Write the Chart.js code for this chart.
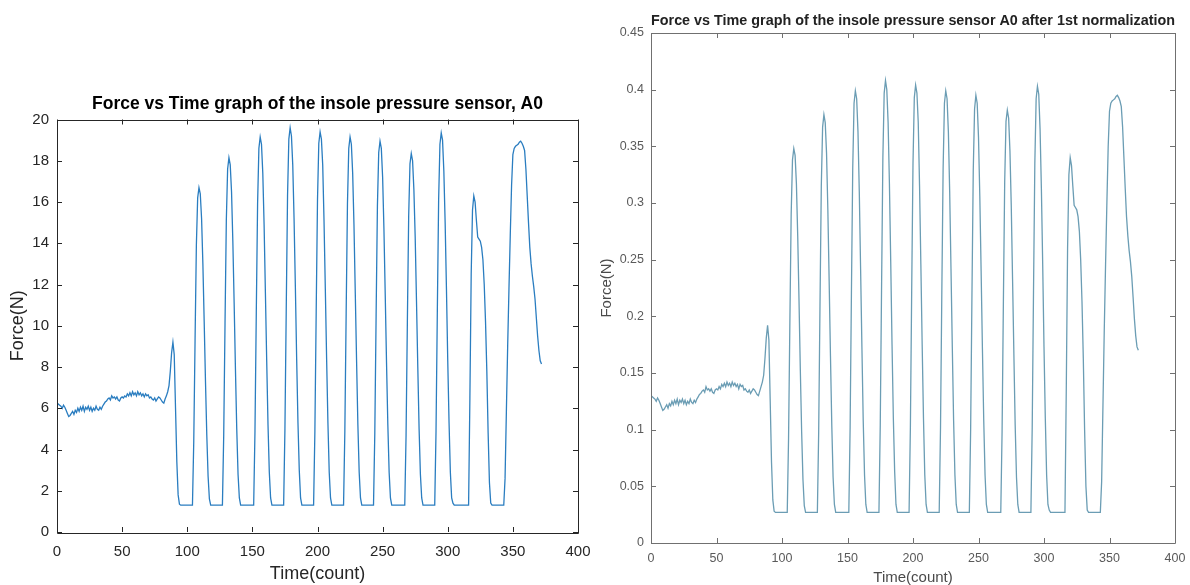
<!DOCTYPE html>
<html>
<head>
<meta charset="utf-8">
<title>Force vs Time - insole pressure sensor A0</title>
<script src="https://cdn.jsdelivr.net/npm/chart.js@4.4.1/dist/chart.umd.min.js"></script>
<style>
    html, body { margin: 0; padding: 0; background: #ffffff; overflow: hidden; }
    #wrap { position: relative; width: 1190px; height: 585px; overflow: hidden; }
    canvas { position: absolute; }
    #rawChart { left: 0; top: 80px; }
    #normChart { left: 595px; top: 0; }
</style>
</head>
<body>
<div id="wrap">
    <canvas id="rawChart" width="595" height="505"></canvas>
    <canvas id="normChart" width="595" height="600"></canvas>
</div>
<script>
// =================================================
// DATA (one sample per count)
// =================================================

const xTicks = [0, 50, 100, 150, 200, 250, 300, 350, 400];
const rawTicks = [0, 2, 4, 6, 8, 10, 12, 14, 16, 18, 20];
const normTicks = [0, 0.05, 0.1, 0.15, 0.2, 0.25, 0.3, 0.35, 0.4, 0.45];

// Force(N) before normalization, count 0..372
const forceRaw = [
    6.25, 6.2, 6.15, 6.1, 6.0, 6.15, 6.05, 5.9, 5.75, 5.6,          // 0-9
    5.65, 5.75, 5.85, 5.7, 5.9, 5.8, 6.0, 5.85, 6.05, 5.9,          // 10-19
    6.1, 5.85, 6.05, 5.95, 6.1, 5.9, 6.05, 5.85, 6.0, 5.9,          // 20-29
    6.1, 5.95, 5.9, 6.05, 5.95, 6.1, 6.2, 6.3, 6.35, 6.45,          // 30-39
    6.5, 6.4, 6.6, 6.5, 6.55, 6.45, 6.55, 6.4, 6.35, 6.5,           // 40-49
    6.55, 6.5, 6.6, 6.55, 6.7, 6.6, 6.75, 6.6, 6.8, 6.65,           // 50-59
    6.75, 6.6, 6.8, 6.65, 6.75, 6.6, 6.7, 6.55, 6.7, 6.6,           // 60-69
    6.65, 6.5, 6.55, 6.45, 6.4, 6.5, 6.35, 6.45, 6.55, 6.5,         // 70-79
    6.4, 6.3, 6.25, 6.45, 6.6, 6.8, 7.1, 7.8, 8.7, 9.2,             // 80-89
    8.6, 6.0, 3.4, 1.8, 1.35, 1.3, 1.3, 1.3, 1.3, 1.3,              // 90-99
    1.3, 1.3, 1.3, 1.3, 1.3, 4.4, 9.3, 13.9, 16.2, 16.7,            // 100-109
    16.4, 15.2, 13.0, 10.2, 7.3, 4.7, 2.7, 1.6, 1.3, 1.3,           // 110-119
    1.3, 1.3, 1.3, 1.3, 1.3, 1.3, 1.3, 1.3, 4.7, 10.1,              // 120-129
    15.1, 17.6, 18.15, 17.8, 16.5, 14.1, 11.1, 7.9, 5.0, 2.8,       // 130-139
    1.65, 1.3, 1.3, 1.3, 1.3, 1.3, 1.3, 1.3, 1.3, 1.3,              // 140-149
    1.3, 1.3, 4.9, 10.6, 15.9, 18.6, 19.15, 18.8, 17.4, 14.9,       // 150-159
    11.6, 8.3, 5.2, 2.9, 1.65, 1.3, 1.3, 1.3, 1.3, 1.3,             // 160-169
    1.3, 1.3, 1.3, 1.3, 1.3, 5.0, 10.8, 16.3, 19.05, 19.6,          // 170-179
    19.2, 17.8, 15.2, 11.9, 8.4, 5.3, 3.0, 1.65, 1.3, 1.3,          // 180-189
    1.3, 1.3, 1.3, 1.3, 1.3, 1.3, 1.3, 1.3, 4.9, 10.7,              // 190-199
    16.1, 18.85, 19.4, 19.05, 17.8, 15.1, 11.8, 8.4, 5.3, 2.9,      // 200-209
    1.65, 1.3, 1.3, 1.3, 1.3, 1.3, 1.3, 1.3, 1.3, 1.3,              // 210-219
    1.3, 4.9, 10.6, 15.9, 18.6, 19.15, 18.8, 17.4, 14.9, 11.6,      // 220-229
    8.3, 5.2, 2.9, 1.65, 1.3, 1.3, 1.3, 1.3, 1.3, 1.3,              // 230-239
    1.3, 1.3, 1.3, 1.3, 4.8, 10.5, 15.8, 18.4, 18.95, 18.6,         // 240-249
    17.2, 14.7, 11.5, 8.2, 5.2, 2.9, 1.65, 1.3, 1.3, 1.3,           // 250-259
    1.3, 1.3, 1.3, 1.3, 1.3, 1.3, 1.3, 1.3, 4.7, 10.2,              // 260-269
    15.3, 17.85, 18.35, 18.0, 16.6, 14.3, 11.2, 8.0, 5.0, 2.8,      // 270-279
    1.65, 1.3, 1.3, 1.3, 1.3, 1.3, 1.3, 1.3, 1.3, 1.3,              // 280-289
    1.3, 4.9, 10.7, 16.1, 18.8, 19.35, 19.0, 17.5, 15.0, 11.8,      // 290-299
    8.3, 5.3, 2.9, 1.65, 1.4, 1.3, 1.3, 1.3, 1.3, 1.3,              // 300-309
    1.3, 1.3, 1.3, 1.3, 1.3, 1.3, 1.3, 6.5, 12.5, 15.6,             // 310-319
    16.3, 16.0, 15.1, 14.3, 14.2, 14.1, 13.8, 13.2, 12.0, 10.2,     // 320-329
    7.8, 4.8, 2.4, 1.4, 1.3, 1.3, 1.3, 1.3, 1.3, 1.3,               // 330-339
    1.3, 1.3, 1.3, 1.3, 2.6, 5.8, 9.0, 11.8, 14.4, 16.8,            // 340-349
    18.3, 18.6, 18.7, 18.75, 18.8, 18.9, 18.95, 18.85, 18.7, 18.5,  // 350-359
    17.6, 16.3, 15.0, 13.8, 13.0, 12.4, 11.9, 11.3, 10.4, 9.5,      // 360-369
    8.8, 8.3, 8.15                                                  // 370-372
];

// Force(N) after 1st normalization, count 0..372
const forceNorm = [
    0.130, 0.129, 0.128, 0.127, 0.125, 0.128, 0.126, 0.123, 0.120, 0.117,   // 0-9
    0.118, 0.120, 0.122, 0.119, 0.123, 0.121, 0.125, 0.122, 0.126, 0.123,   // 10-19
    0.127, 0.122, 0.126, 0.124, 0.127, 0.123, 0.126, 0.122, 0.125, 0.123,   // 20-29
    0.127, 0.124, 0.123, 0.126, 0.124, 0.127, 0.129, 0.131, 0.132, 0.134,   // 30-39
    0.135, 0.133, 0.138, 0.135, 0.136, 0.134, 0.136, 0.133, 0.132, 0.135,   // 40-49
    0.136, 0.135, 0.138, 0.136, 0.140, 0.138, 0.141, 0.138, 0.142, 0.139,   // 50-59
    0.141, 0.138, 0.142, 0.139, 0.141, 0.138, 0.140, 0.136, 0.140, 0.138,   // 60-69
    0.139, 0.135, 0.136, 0.134, 0.133, 0.135, 0.132, 0.134, 0.136, 0.135,   // 70-79
    0.133, 0.131, 0.130, 0.134, 0.138, 0.142, 0.148, 0.163, 0.181, 0.192,   // 80-89
    0.179, 0.125, 0.071, 0.038, 0.028, 0.027, 0.027, 0.027, 0.027, 0.027,   // 90-99
    0.027, 0.027, 0.027, 0.027, 0.027, 0.092, 0.194, 0.290, 0.338, 0.348,   // 100-109
    0.342, 0.317, 0.271, 0.213, 0.152, 0.098, 0.056, 0.033, 0.027, 0.027,   // 110-119
    0.027, 0.027, 0.027, 0.027, 0.027, 0.027, 0.027, 0.027, 0.098, 0.210,   // 120-129
    0.315, 0.367, 0.378, 0.371, 0.344, 0.294, 0.231, 0.165, 0.104, 0.058,   // 130-139
    0.034, 0.027, 0.027, 0.027, 0.027, 0.027, 0.027, 0.027, 0.027, 0.027,   // 140-149
    0.027, 0.027, 0.102, 0.221, 0.331, 0.388, 0.399, 0.392, 0.363, 0.310,   // 150-159
    0.242, 0.173, 0.108, 0.060, 0.034, 0.027, 0.027, 0.027, 0.027, 0.027,   // 160-169
    0.027, 0.027, 0.027, 0.027, 0.027, 0.104, 0.225, 0.340, 0.397, 0.408,   // 170-179
    0.400, 0.371, 0.317, 0.248, 0.175, 0.110, 0.063, 0.034, 0.027, 0.027,   // 180-189
    0.027, 0.027, 0.027, 0.027, 0.027, 0.027, 0.027, 0.027, 0.102, 0.223,   // 190-199
    0.335, 0.393, 0.404, 0.397, 0.371, 0.315, 0.246, 0.175, 0.110, 0.060,   // 200-209
    0.034, 0.027, 0.027, 0.027, 0.027, 0.027, 0.027, 0.027, 0.027, 0.027,   // 210-219
    0.027, 0.102, 0.221, 0.331, 0.388, 0.399, 0.392, 0.363, 0.310, 0.242,   // 220-229
    0.173, 0.108, 0.060, 0.034, 0.027, 0.027, 0.027, 0.027, 0.027, 0.027,   // 230-239
    0.027, 0.027, 0.027, 0.027, 0.100, 0.219, 0.329, 0.383, 0.395, 0.388,   // 240-249
    0.358, 0.306, 0.240, 0.171, 0.108, 0.060, 0.034, 0.027, 0.027, 0.027,   // 250-259
    0.027, 0.027, 0.027, 0.027, 0.027, 0.027, 0.027, 0.027, 0.098, 0.213,   // 260-269
    0.319, 0.372, 0.382, 0.375, 0.346, 0.298, 0.233, 0.167, 0.104, 0.058,   // 270-279
    0.034, 0.027, 0.027, 0.027, 0.027, 0.027, 0.027, 0.027, 0.027, 0.027,   // 280-289
    0.027, 0.102, 0.223, 0.335, 0.392, 0.403, 0.396, 0.365, 0.313, 0.246,   // 290-299
    0.173, 0.110, 0.060, 0.034, 0.029, 0.027, 0.027, 0.027, 0.027, 0.027,   // 300-309
    0.027, 0.027, 0.027, 0.027, 0.027, 0.027, 0.027, 0.135, 0.260, 0.325,   // 310-319
    0.340, 0.333, 0.315, 0.298, 0.296, 0.294, 0.288, 0.275, 0.250, 0.213,   // 320-329
    0.163, 0.100, 0.050, 0.029, 0.027, 0.027, 0.027, 0.027, 0.027, 0.027,   // 330-339
    0.027, 0.027, 0.027, 0.027, 0.054, 0.121, 0.188, 0.246, 0.300, 0.350,   // 340-349
    0.381, 0.388, 0.390, 0.391, 0.392, 0.394, 0.395, 0.393, 0.390, 0.385,   // 350-359
    0.367, 0.340, 0.313, 0.288, 0.271, 0.258, 0.248, 0.235, 0.217, 0.198,   // 360-369
    0.183, 0.173, 0.170                                                     // 370-372
];

// time axis is just the sample counter
const timeCount = forceRaw.map((_, i) => i);

const FONT = "'Liberation Sans', Arial, Helvetica, sans-serif";

// =================================================
// MATLAB style box: frame round the plot area + inward ticks on all sides
// =================================================
const matlabBox = {
    id: 'matlabBox',
    afterDraw(chart, args, opts) {
        const { ctx, chartArea: a, scales: { x, y } } = chart;
        const len = opts.tickLen || 5;
        ctx.save();
        ctx.strokeStyle = opts.color || '#262626';
        ctx.lineWidth = 1;
        ctx.beginPath();
        ctx.rect(Math.round(a.left) + 0.5, Math.round(a.top) + 0.5,
                 Math.round(a.right - a.left), Math.round(a.bottom - a.top));
        x.ticks.forEach(t => {
            const px = Math.round(x.getPixelForValue(t.value)) + 0.5;
            ctx.moveTo(px, a.bottom); ctx.lineTo(px, a.bottom - len);
            ctx.moveTo(px, a.top); ctx.lineTo(px, a.top + len);
        });
        y.ticks.forEach(t => {
            const py = Math.round(y.getPixelForValue(t.value)) + 0.5;
            ctx.moveTo(a.left, py); ctx.lineTo(a.left + len, py);
            ctx.moveTo(a.right, py); ctx.lineTo(a.right - len, py);
        });
        ctx.stroke();
        ctx.restore();
    }
};

/**
 * Builds one MATLAB-looking line chart.
 */
function makeChart(canvasId, values, yTicks, s) {
    const points = values.map((v, i) => ({ x: timeCount[i], y: v }));
    return new Chart(document.getElementById(canvasId), {
        type: 'line',
        data: {
            datasets: [{
                data: points,
                borderColor: s.lineColor,
                borderWidth: s.lineWidth,
                pointRadius: 0,
                tension: 0,
                fill: false
            }]
        },
        options: {
            responsive: false,
            animation: false,
            devicePixelRatio: 1,
            layout: { padding: { left: 0, right: s.padRight, top: 0, bottom: 0 } },
            plugins: {
                legend: { display: false },
                tooltip: { enabled: false },
                title: {
                    display: true,
                    text: s.title,
                    fullSize: false,
                    color: s.titleColor,
                    font: { size: s.titleSize, weight: 'bold', family: FONT, lineHeight: 1.2 },
                    padding: s.titlePad
                },
                matlabBox: { color: s.axisColor, tickLen: 5 }
            },
            scales: {
                x: {
                    type: 'linear',
                    min: xTicks[0],
                    max: xTicks[xTicks.length - 1],
                    afterBuildTicks: (scale) => { scale.ticks = xTicks.map(v => ({ value: v })); },
                    grid: { display: false, drawTicks: false },
                    border: { display: false },
                    ticks: {
                        color: s.tickColor,
                        font: { size: s.tickSize, family: FONT },
                        padding: s.xTickPad,
                        maxRotation: 0,
                        autoSkip: false
                    },
                    title: {
                        display: true,
                        text: 'Time(count)',
                        color: s.labelColor,
                        font: { size: s.labelSize, family: FONT, lineHeight: 1.2 },
                        padding: { top: 0, bottom: s.xTitlePad }
                    },
                    afterFit: (scale) => {
                        scale.height = s.xHeight;
                        // keep the plot box where MATLAB put it, ignore label overhang
                        scale.paddingLeft = 0;
                        scale.paddingRight = 0;
                    }
                },
                y: {
                    type: 'linear',
                    min: yTicks[0],
                    max: yTicks[yTicks.length - 1],
                    afterBuildTicks: (scale) => { scale.ticks = yTicks.map(v => ({ value: v })); },
                    grid: { display: false, drawTicks: false },
                    border: { display: false },
                    ticks: {
                        color: s.tickColor,
                        font: { size: s.tickSize, family: FONT },
                        padding: s.yTickPad,
                        autoSkip: false,
                        callback: (v) => String(Number(v.toFixed(2)))
                    },
                    title: {
                        display: true,
                        text: 'Force(N)',
                        color: s.labelColor,
                        font: { size: s.labelSize, family: FONT, lineHeight: 1.2 },
                        padding: { top: s.yTitlePad, bottom: 0 }
                    },
                    afterFit: (scale) => {
                        scale.width = s.yWidth;
                        scale.paddingTop = 0;
                        scale.paddingBottom = 0;
                    }
                }
            }
        },
        plugins: [matlabBox]
    });
}

// left: raw sensor force
makeChart('rawChart', forceRaw, rawTicks, {
    title: 'Force vs Time graph of the insole pressure sensor, A0',
    titleSize: 17.5, titleColor: '#000000', titlePad: { top: 13.5, bottom: 5 },
    lineColor: '#2a7dc0', lineWidth: 1.3,
    axisColor: '#262626', tickColor: '#262626', labelColor: '#262626',
    tickSize: 15, labelSize: 18,
    padRight: 17, yWidth: 57, xHeight: 53,
    xTickPad: 11, yTickPad: 8, xTitlePad: 0, yTitlePad: 7
});

// right: after 1st normalization (softer, greyer rendering)
makeChart('normChart', forceNorm, normTicks, {
    title: 'Force vs Time graph of the insole pressure sensor A0 after 1st normalization',
    titleSize: 14.5, titleColor: '#222222', titlePad: { top: 12.3, bottom: 3.3 },
    lineColor: '#6b9db4', lineWidth: 1.3,
    axisColor: '#707070', tickColor: '#5a5a5a', labelColor: '#4a4a4a',
    tickSize: 12.5, labelSize: 15,
    padRight: 15, yWidth: 56, xHeight: 57,
    xTickPad: 8, yTickPad: 7, xTitlePad: 13, yTitlePad: 3
});
</script>
</body>
</html>
